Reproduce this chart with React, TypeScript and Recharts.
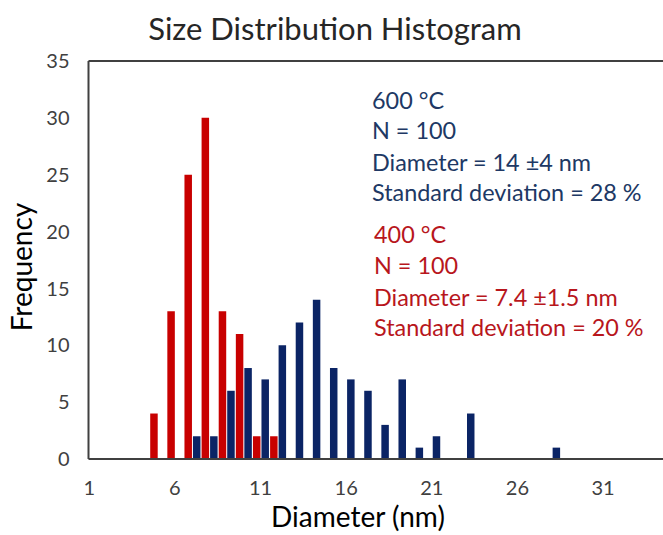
import React from 'react';
import {
  BarChart,
  Bar,
  XAxis,
  YAxis,
  ReferenceLine,
  Customized,
} from 'recharts';

// histogram bins, 1 nm each
const sizes = Array.from({ length: 34 }, (_, i) => i + 1);

// 400 °C sample, bins 5..12
const counts400: Record<number, number> = {
  5: 4,
  6: 13,
  7: 25,
  8: 30,
  9: 13,
  10: 11,
  11: 2,
  12: 2,
};

// 600 °C sample, bins 7..28
const counts600: Record<number, number> = {
  7: 2,
  8: 2,
  9: 6,
  10: 8,
  11: 7,
  12: 10,
  13: 12,
  14: 14,
  15: 8,
  16: 7,
  17: 6,
  18: 3,
  19: 7,
  20: 1,
  21: 2,
  23: 4,
  28: 1,
};

const yTicks = [0, 5, 10, 15, 20, 25, 30, 35];

const notes600 = ['600 °C', 'N = 100', 'Diameter = 14 ±4 nm', 'Standard deviation = 28 %'];
const notes400 = ['400 °C', 'N = 100', 'Diameter = 7.4 ±1.5 nm', 'Standard deviation = 20 %'];

const data = sizes.map((s) => ({
  size: s,
  t400: counts400[s] ?? 0,
  t600: counts600[s] ?? 0,
}));

const RED = '#C80000';
const NAVY = '#0B2465';
const FONT = 'Lato, "Open Sans", sans-serif';

const Texts = () => (
  <g fontFamily={FONT}>
    <text x={335} y={40} textAnchor="middle" fontSize={31} fill="#262626">
      Size Distribution Histogram
    </text>
    <text x={358} y={527} textAnchor="middle" fontSize={28} fill="#000">
      Diameter (nm)
    </text>
    <text
      x={0}
      y={0}
      transform="translate(32,267) rotate(-90)"
      textAnchor="middle"
      fontSize={28}
      fill="#000"
    >
      Frequency
    </text>
    {notes600.map((t, i) => (
      <text key={'a' + i} x={372} y={[109, 139, 171, 201][i]} fontSize={23.4} fill="#203864">
        {t}
      </text>
    ))}
    {notes400.map((t, i) => (
      <text key={'b' + i} x={374} y={[243, 274, 306, 336][i]} fontSize={23.4} fill="#B8161C">
        {t}
      </text>
    ))}
  </g>
);

export default function App() {
  return (
    <div style={{ position: 'absolute', left: 0, top: 0, background: '#fff' }}>
      <BarChart
        width={663}
        height={535}
        data={data}
        margin={{ top: 61, right: 0, left: 0, bottom: 0 }}
        barGap={1}
        barSize={7.5}
      >
        <XAxis
          dataKey="size"
          interval={4}
          height={76}
          padding={{ left: -7.8, right: 0 }}
          tickLine={false}
          tickSize={0}
          tickMargin={22}
          axisLine={{ stroke: '#404040', strokeWidth: 2 }}
          tick={{ fill: '#404040', fontSize: 20, fontFamily: FONT }}
        />
        <YAxis
          domain={[0, 35]}
          ticks={yTicks}
          width={88.5}
          tickLine={false}
          tickSize={0}
          tickMargin={19}
          axisLine={{ stroke: '#404040', strokeWidth: 2 }}
          tick={{ fill: '#404040', fontSize: 20, fontFamily: FONT }}
        />
        <ReferenceLine y={35} stroke="#404040" strokeWidth={2} />
        <Bar dataKey="t400" fill={RED} isAnimationActive={false} />
        <Bar dataKey="t600" fill={NAVY} isAnimationActive={false} />
        <Customized component={Texts} />
      </BarChart>
    </div>
  );
}
